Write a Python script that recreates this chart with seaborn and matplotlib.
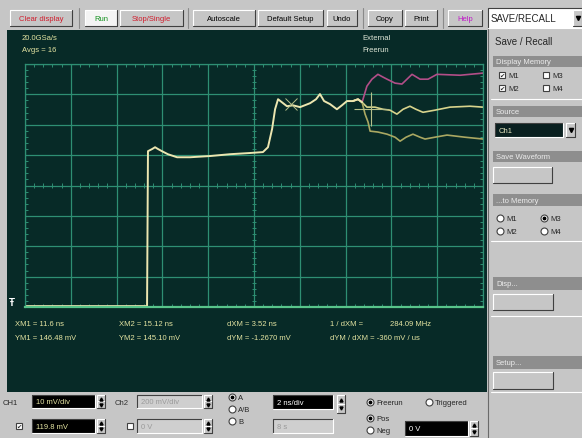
import numpy as np
import pandas as pd
import matplotlib
matplotlib.use('Agg')
import matplotlib.pyplot as plt
import matplotlib.patches as mpatches
import seaborn as sns

# waveform: time in ns, amplitude in mV
t_main = [0, 5.24, 5.33, 5.37, 5.55, 5.68, 5.81, 5.98, 6.24, 6.64, 7.21, 8.08, 8.95, 9.83,
          10.39, 10.61, 10.79, 10.92, 11.05, 11.27, 11.44, 11.70, 12.01, 12.45, 12.71, 12.88,
          13.06, 13.32, 13.62, 13.84, 14.06, 14.32, 14.54, 14.72]
mv_main = [80.1, 80.1, 80.1, 131.1, 131.8, 132.4, 131.8, 131.1, 130.1, 129.1, 129.1, 129.5,
           130.1, 130.5, 130.8, 132.4, 138.4, 144.9, 148.2, 146.9, 145.9, 146.2, 145.6, 146.9,
           148.2, 149.9, 147.6, 146.6, 144.9, 146.2, 147.6, 147.6, 148.2, 147.2]

t_m1 = [14.93, 15.15, 15.41, 15.63, 15.81, 16.16, 16.46, 16.90, 17.25, 17.60, 17.99, 19.00, 20.0]
mv_m1 = [152.5, 154.8, 156.4, 155.5, 154.8, 153.5, 153.2, 156.4, 154.8, 154.8, 156.4, 156.1, 156.8]

t_m2 = [14.93, 15.28, 15.63, 15.94, 16.24, 16.51, 16.81, 17.07, 17.38, 17.90, 18.56, 19.43, 20.0]
mv_m2 = [145.6, 145.6, 144.9, 144.6, 143.3, 144.9, 145.9, 144.9, 143.9, 144.6, 145.6, 145.9, 145.6]

t_ch1 = [14.85, 14.98, 15.07, 15.41, 15.81, 16.16, 16.38, 16.64, 16.94, 17.25, 17.47, 17.90,
         18.43, 19.21, 20.0]
mv_ch1 = [143.3, 140.7, 137.7, 137.4, 136.7, 135.7, 134.4, 135.7, 136.7, 135.7, 135.1, 135.7,
          136.4, 135.7, 135.1]

cursor_ns = [11.6, 15.12]
cursor_mv = [146.48, 145.10]

offset_mv = 119.8
mv_per_div = 10
ns_per_div = 2

sns.set_theme(style='dark')
plt.rcParams['font.family'] = ['Liberation Sans', 'DejaVu Sans']

SCREEN = '#072a27'
GRID = '#2e8f73'
PANEL = '#c6c6c6'
HEAD = '#8e8e8e'
TXT = '#e4e4a2'

fig = plt.figure(figsize=(5.82, 4.39), dpi=100)
fig.patch.set_facecolor(PANEL)

# whole window in pixel coords for the instrument chrome
ui = fig.add_axes([0, 0, 1, 1])
ui.set_xlim(0, 582)
ui.set_ylim(439, 0)
ui.axis('off')


def rect(x0, y0, x1, y1, fc, ec='none', lw=0.8, z=1):
    ui.add_patch(mpatches.Rectangle((x0, y0), x1 - x0, y1 - y0, facecolor=fc,
                                    edgecolor=ec, linewidth=lw, zorder=z))


def bevel(x0, y0, x1, y1, sunken=False):
    hi, lo = ('#ffffff', '#404040')
    if sunken:
        hi, lo = lo, hi
    ui.plot([x0, x0, x1], [y1, y0, y0], color=hi, lw=0.8, zorder=2)
    ui.plot([x0, x1, x1], [y1, y1, y0], color=lo, lw=0.8, zorder=2)


def button(x0, x1, y0, y1, label, color='black', fc=PANEL, size=5.5):
    rect(x0, y0, x1, y1, fc)
    bevel(x0, y0, x1, y1)
    ui.text((x0 + x1) / 2, (y0 + y1) / 2 + 0.5, label, color=color, ha='center',
            va='center', fontsize=size, zorder=3)


def field(x0, x1, y0, y1, label, fc='black', tc=TXT):
    rect(x0, y0, x1, y1, fc)
    bevel(x0, y0, x1, y1, sunken=True)
    ui.text(x0 + 4, (y0 + y1) / 2 + 0.5, label, color=tc, ha='left', va='center',
            fontsize=5.5, zorder=3)


def spinner(x, y0, y1):
    rect(x, y0, x + 8, y1, PANEL)
    bevel(x, y0, x + 8, (y0 + y1) / 2)
    bevel(x, (y0 + y1) / 2, x + 8, y1)
    ui.plot(x + 4, y0 + (y1 - y0) * 0.27, marker='^', ms=2.2, color='black', zorder=3)
    ui.plot(x + 4, y0 + (y1 - y0) * 0.75, marker='v', ms=2.2, color='black', zorder=3)


def drop(x, y0, y1):
    rect(x, y0, x + 9, y1, PANEL)
    bevel(x, y0, x + 9, y1)
    ui.plot(x + 4.5, (y0 + y1) / 2, marker='v', ms=3, color='black', zorder=3)


def radio(x, y, label, on=False):
    ui.plot(x, y, 'o', ms=5, mfc='white', mec='#404040', mew=0.8, zorder=3)
    if on:
        ui.plot(x, y, 'o', ms=1.8, color='black', zorder=4)
    ui.text(x + 6, y + 0.5, label, fontsize=5.5, va='center', ha='left', zorder=3)


def check(x, y, label, on=False):
    ui.plot(x, y, 's', ms=5, mfc='white', mec='#404040', mew=0.8, zorder=3)
    if on:
        ui.text(x, y + 0.5, '\u2714', fontsize=4.5, ha='center', va='center', zorder=4)
    if label:
        ui.text(x + 6, y + 0.5, label, fontsize=5.5, va='center', ha='left', zorder=3)


def header(y0, y1, label):
    rect(493, y0, 582, y1, HEAD)
    ui.text(496, (y0 + y1) / 2 + 0.5, label, color='#ececec', fontsize=5.5, va='center', zorder=3)


# toolbar
for label, x0, x1, col in [('Clear display', 10, 72, '#d01c2c'), ('Stop/Single', 120, 183, '#d01c2c'),
                           ('Autoscale', 193, 255, 'black'), ('Default Setup', 258, 323, 'black'),
                           ('Undo', 327, 357, 'black'), ('Copy', 368, 402, 'black'),
                           ('Print', 405, 437, 'black'), ('Help', 448, 482, '#c018c8')]:
    button(x0, x1, 11, 27, label, color=col)
button(85, 117, 11, 27, 'Run', color='#10901c', fc='#f4f4f4')
for x in [79, 188, 363, 443]:
    ui.plot([x, x], [9, 29], color='#8a8a8a', lw=0.8)
rect(488, 9, 582, 29, 'white')
bevel(488, 9, 582, 29, sunken=True)
ui.text(491, 19.5, 'SAVE/RECALL', fontsize=7, va='center', zorder=3)
drop(573, 11, 27)

# scope screen
rect(7, 31, 487, 393, SCREEN)
ui.text(22, 38, '20.0GSa/s', color=TXT, fontsize=5.5, va='center')
ui.text(22, 51, 'Avgs = 16', color=TXT, fontsize=5.5, va='center')
ui.text(362, 38, 'External', color='#e0e8d8', fontsize=5.5, va='center')
ui.text(362, 51, 'Freerun', color='#e0e8d8', fontsize=5.5, va='center')
ui.text(12, 303, '\u0166', color='white', fontsize=7, fontweight='bold', ha='center', va='center')

meas = [(15, 325, 'XM1 = 11.6 ns'), (119, 325, 'XM2 = 15.12 ns'), (227, 325, 'dXM = 3.52 ns'),
        (330, 325, '1 / dXM ='), (390, 325, '284.09 MHz'),
        (15, 339, 'YM1 = 146.48 mV'), (119, 339, 'YM2 = 145.10 mV'), (227, 339, 'dYM = -1.2670 mV'),
        (330, 339, 'dYM / dXM = -360 mV / us')]
for x, y, s in meas:
    ui.text(x, y, s, color=TXT, fontsize=5.5, va='center')

# bottom control strip
ui.text(3, 404, 'CH1', fontsize=5.5, va='center')
field(32, 95, 396, 409, '10 mV/div')
spinner(97, 396, 409)
ui.text(115, 404, 'Ch2', fontsize=5.5, va='center', color='#303030')
field(137, 202, 396, 409, '200 mV/div', fc='#cfcfcf', tc='#9a9a9a')
spinner(204, 396, 409)
check(19, 427, '', on=True)
field(32, 95, 420, 434, '119.8 mV')
spinner(97, 420, 434)
check(130, 427, '')
field(137, 202, 420, 434, '0 V', fc='#cfcfcf', tc='#9a9a9a')
spinner(204, 420, 434)
radio(232, 398, 'A', on=True)
radio(232, 410, 'A/B')
radio(232, 422, 'B')
field(273, 333, 396, 410, '2 ns/div', tc='white')
spinner(337, 396, 414)
field(273, 333, 420, 434, '8 s', fc='#cfcfcf', tc='#9a9a9a')
radio(370, 403, 'Freerun', on=True)
radio(429, 403, 'Triggered')
radio(370, 419, 'Pos', on=True)
radio(370, 431, 'Neg')
field(405, 468, 422, 437, '0 V', tc='white')
spinner(470, 422, 437)

# right hand panel
ui.plot([487.5, 487.5], [30, 439], color='#6a6a6a', lw=0.8)
ui.text(495, 42, 'Save / Recall', fontsize=7, va='center')
header(57, 68, 'Display Memory')
check(502, 76, 'M1', on=True)
check(546, 76, 'M3')
check(502, 89, 'M2', on=True)
check(546, 89, 'M4')
ui.plot([491, 582], [100, 100], color='#ffffff', lw=0.8)
header(107, 118, 'Source')
field(495, 563, 124, 138, 'Ch1', fc='#0a2020', tc='#e8e8c0')
drop(566, 124, 138)
header(152, 163, 'Save Waveform')
button(493, 552, 168, 184, '')
header(195, 207, '...to Memory')
radio(500, 219, 'M1')
radio(544, 219, 'M3', on=True)
radio(500, 232, 'M2')
radio(544, 232, 'M4')
ui.plot([491, 582], [242, 242], color='#ffffff', lw=0.8)
header(278, 291, 'Disp...')
button(493, 553, 295, 311, '')
ui.plot([491, 582], [317, 317], color='#ffffff', lw=0.8)
header(357, 370, 'Setup...')
button(493, 553, 373, 390, '')
ui.plot([491, 582], [393, 393], color='#ffffff', lw=0.8)

# graticule
sc = fig.add_axes([25 / 582, 1 - 308 / 439, 458 / 582, 243 / 439])
sc.set_facecolor(SCREEN)
sc.set_xlim(0, 10 * ns_per_div)
sc.set_ylim(offset_mv - 4 * mv_per_div, offset_mv + 4 * mv_per_div)
sc.set_xticks(np.arange(0, 10 * ns_per_div + 0.01, ns_per_div))
sc.set_yticks(offset_mv + mv_per_div * np.arange(-4, 5))
minor_x = np.arange(0, 10 * ns_per_div + 0.01, ns_per_div / 5)
minor_y = offset_mv + mv_per_div / 5 * np.arange(-20, 21)
sc.set_xticks(minor_x, minor=True)
sc.set_yticks(minor_y, minor=True)
sc.grid(True, which='major', color=GRID, lw=0.9)
sc.tick_params(which='major', length=0, labelbottom=False, labelleft=False)
sc.tick_params(which='minor', direction='in', length=2.5, width=0.7, color=GRID,
               bottom=True, top=True, left=True, right=True)
sc.vlines(minor_x, offset_mv - 0.8, offset_mv + 0.8, color=GRID, lw=0.7)
sc.hlines(minor_y, 5 * ns_per_div - 0.07, 5 * ns_per_div + 0.07, color=GRID, lw=0.7)
for s in sc.spines.values():
    s.set_color(GRID)
    s.set_linewidth(0.9)
sc.spines['bottom'].set_color('#58c48a')
sc.spines['bottom'].set_linewidth(1.6)

rows = []
for mem, t_tail, v_tail in [('M1', t_m1, mv_m1), ('M2', t_m2, mv_m2), ('Ch1', t_ch1, mv_ch1)]:
    for t, v in zip(t_main[-3:] + t_tail, mv_main[-3:] + v_tail):
        rows.append((mem, t, v))
df = pd.DataFrame(rows, columns=['memory', 'ns', 'mV'])
sns.lineplot(data=df, x='ns', y='mV', hue='memory', sort=False, estimator=None, legend=False,
             palette={'M1': '#b24e88', 'M2': '#d8d48c', 'Ch1': '#aaa862'}, lw=1.2, ax=sc)
sns.lineplot(x=t_main, y=mv_main, sort=False, estimator=None, color='#ece6b0', lw=1.4, ax=sc)

sc.plot(cursor_ns[0], cursor_mv[0], marker='x', ms=9, mew=0.7, color='#b6c08a')
sc.plot(cursor_ns[1], cursor_mv[1], marker='+', ms=24, mew=0.8, color='#b6c08a')
sc.set_xlabel('')
sc.set_ylabel('')

fig.savefig('out.png', dpi=100, facecolor=fig.get_facecolor())
